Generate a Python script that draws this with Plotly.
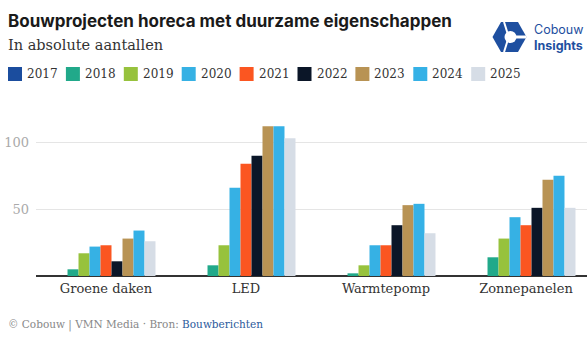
import plotly.graph_objects as go

categories = ["Groene daken", "LED", "Warmtepomp", "Zonnepanelen"]
years = ["2017", "2018", "2019", "2020", "2021", "2022", "2023", "2024", "2025"]
v2017 = [0, 0, 0, 0]
v2018 = [5, 8, 2, 14]
v2019 = [17, 23, 8, 28]
v2020 = [22, 66, 23, 44]
v2021 = [23, 84, 23, 38]
v2022 = [11, 90, 38, 51]
v2023 = [28, 112, 53, 72]
v2024 = [34, 112, 54, 75]
v2025 = [26, 103, 32, 51]
series = [v2017, v2018, v2019, v2020, v2021, v2022, v2023, v2024, v2025]
colors = ["#1b4d9e", "#21a98a", "#97c23d", "#36b1e4", "#fb5621",
          "#0b1628", "#b89354", "#35b1e6", "#d6dde6"]

W, H = 587, 351
L, R, T, B = 36, 0, 116, 75
PW, PH = W - L - R, H - T - B

def px(x):
    return (x - L) / PW

def py(y):
    return (H - B - y) / PH

SERIF = "DejaVu Serif"
SANS = "Inter"

fig = go.Figure()
for name, vals, c in zip(years, series, colors):
    fig.add_trace(go.Bar(name=name, x=categories, y=vals, marker_color=c,
                         marker_line_width=0, showlegend=False))

annotations = [
    dict(text="<b>Bouwprojecten horeca met duurzame eigenschappen</b>",
         x=px(6), y=py(21), xanchor="left", yanchor="middle",
         font=dict(family=SANS, size=17, color="#1a1a1a")),
    dict(text="In absolute aantallen", x=px(6), y=py(45), xanchor="left",
         yanchor="middle", font=dict(family=SERIF, size=14.5, color="#333333")),
    dict(text="© Cobouw | VMN Media · Bron: <span style='color:#2b5a9c'>Bouwberichten</span>",
         x=px(6), y=py(325), xanchor="left", yanchor="middle",
         font=dict(family=SERIF, size=10.5, color="#888888")),
    dict(text="Cobouw", x=px(533), y=py(38), xanchor="left", yanchor="bottom",
         borderpad=0, font=dict(family=SANS, size=12.5, color="#1e4fa0")),
    dict(text="<b>Insights</b>", x=px(533), y=py(37), xanchor="left", yanchor="top",
         borderpad=0, font=dict(family=SANS, size=12.5, color="#1e4fa0")),
]

shapes = []
# manual legend
step = 57.9
for i, (name, c) in enumerate(zip(years, colors)):
    x0 = 8 + step * i
    shapes.append(dict(type="rect", xref="paper", yref="paper",
                       x0=px(x0), x1=px(x0 + 14), y0=py(81), y1=py(67),
                       fillcolor=c, line_width=0))
    annotations.append(dict(text=name, x=px(x0 + 17), y=py(74), xanchor="left",
                            yanchor="middle",
                            font=dict(family=SERIF, size=12, color="#333333")))

for a in annotations:
    a.update(xref="paper", yref="paper", showarrow=False)

# logo hexagon
cx, cy, r = 509.5, 37, 17
hexpts = [(cx - r, cy), (cx - r / 2, cy - 15), (cx + r / 2, cy - 15),
          (cx + r, cy), (cx + r / 2, cy + 15), (cx - r / 2, cy + 15)]
path = "M " + " L ".join(f"{px(x):.5f},{py(y):.5f}" for x, y in hexpts) + " Z"
shapes += [
    dict(type="path", path=path, xref="paper", yref="paper",
         fillcolor="#1e4fa0", line_width=0),
    dict(type="circle", xref="paper", yref="paper",
         x0=px(cx - 5), x1=px(cx + 7), y0=py(cy + 6), y1=py(cy - 6),
         fillcolor="white", line_width=0),
    dict(type="line", xref="paper", yref="paper",
         x0=px(cx - r / 2 + 3), y0=py(cy - 15), x1=px(cx - 2), y1=py(cy - 4),
         line=dict(color="white", width=2)),
    dict(type="line", xref="paper", yref="paper",
         x0=px(cx - r / 2 + 3), y0=py(cy + 15), x1=px(cx - 2), y1=py(cy + 4),
         line=dict(color="white", width=2)),
    dict(type="line", xref="paper", yref="paper",
         x0=px(cx + 6), y0=py(cy), x1=px(cx + r), y1=py(cy),
         line=dict(color="white", width=3)),
]

fig.update_layout(
    width=W, height=H,
    margin=dict(l=L, r=R, t=T, b=B, pad=0),
    paper_bgcolor="white", plot_bgcolor="white",
    barmode="group", bargap=0.293, bargroupgap=0,
    showlegend=False,
    annotations=annotations,
    shapes=shapes,
    xaxis=dict(range=[-0.5, -0.5 + PW / 140], showgrid=False, showline=False,
               ticks="", ticklabelstandoff=3,
               tickfont=dict(family=SERIF, size=13, color="#333333"),
               fixedrange=True),
    yaxis=dict(range=[0, PH / 1.3367], tickvals=[50, 100], showgrid=True,
               gridcolor="#e5e5e5", gridwidth=1, zeroline=True,
               zerolinecolor="#333333", zerolinewidth=1.5, showline=False,
               ticks="", ticklabelstandoff=6,
               tickfont=dict(family=SERIF, size=13, color="#aaaaaa")),
)

fig.write_html("out.html")
